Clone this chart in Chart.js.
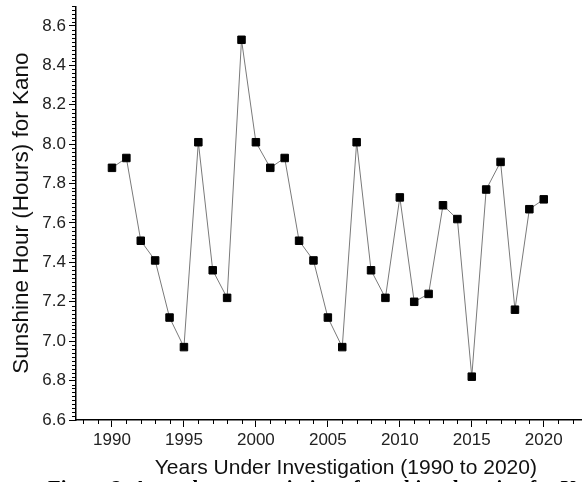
<!DOCTYPE html>
<html>
<head>
<meta charset="utf-8">
<script src="https://cdn.jsdelivr.net/npm/chart.js@4/dist/chart.umd.min.js"></script>
<style>
  html, body { margin: 0; padding: 0; overflow: hidden; background: #fff; width: 582px; height: 482px; }
  #wrap { position: relative; width: 582px; height: 482px; overflow: hidden; }
  #wrap canvas { position: absolute; left: 0; top: 0; }
  #caption {
    position: absolute; left: 48px; top: 478px;
    font: bold 20.7px/20px 'Liberation Serif', 'Times New Roman', serif;
    white-space: nowrap; color: #000;
  }
</style>
</head>
<body>
<div id="wrap">
  <canvas id="chart" width="622" height="482"></canvas>
  <div id="caption">Figure 2: Annual mean variation of sunshine duration for Kano</div>
</div>
<script>
// Annual mean sunshine duration (hours) for Kano
const years = [1990, 1991, 1992, 1993, 1994, 1995, 1996, 1997, 1998, 1999,
               2000, 2001, 2002, 2003, 2004, 2005, 2006, 2007, 2008, 2009,
               2010, 2011, 2012, 2013, 2014, 2015, 2016, 2017, 2018, 2019, 2020];
const sunshineHours = [7.88, 7.93, 7.51, 7.41, 7.12, 6.97, 8.01, 7.36, 7.22, 8.53,
                       8.01, 7.88, 7.93, 7.51, 7.41, 7.12, 6.97, 8.01, 7.36, 7.22,
                       7.73, 7.20, 7.24, 7.69, 7.62, 6.82, 7.77, 7.91, 7.16, 7.67, 7.72];
const yTickValues = [6.6, 6.8, 7.0, 7.2, 7.4, 7.6, 7.8, 8.0, 8.2, 8.4, 8.6];
const xTickValues = [1990, 1995, 2000, 2005, 2010, 2015, 2020];

const FONT = "'Liberation Sans', Arial, sans-serif";
Chart.defaults.font.family = FONT;

// Small unlabelled ticks: every year on x, every 0.02 h on y
const minorTicks = {
  id: 'minorTicks',
  afterDraw(chart) {
    const { ctx, scales: { x, y } } = chart;
    ctx.save();
    ctx.strokeStyle = '#000';
    ctx.lineWidth = 1;
    ctx.beginPath();
    for (let i = 1; i <= 105; i++) {
      if (i % 10 === 0) continue;
      const py = Math.round(y.getPixelForValue(6.6 + i * 0.02)) + 0.5;
      if (py < y.top) break;
      ctx.moveTo(x.left - 4, py);
      ctx.lineTo(x.left, py);
    }
    for (let yr = 1988; yr <= 2025; yr++) {
      if (yr % 5 === 0) continue;
      const px = Math.round(x.getPixelForValue(yr)) + 0.5;
      ctx.moveTo(px, y.bottom);
      ctx.lineTo(px, y.bottom + 4);
    }
    ctx.stroke();
    ctx.restore();
  }
};

new Chart(document.getElementById('chart'), {
  type: 'line',
  data: {
    datasets: [{
      data: years.map((yr, i) => ({ x: yr, y: sunshineHours[i] })),
      borderColor: '#7a7a7a',
      borderWidth: 1,
      pointStyle: 'rect',
      pointRadius: 5.3,
      pointBackgroundColor: '#000',
      pointBorderColor: '#000',
      pointBorderWidth: 1,
      tension: 0
    }]
  },
  options: {
    responsive: false,
    animation: false,
    devicePixelRatio: 1,
    layout: { padding: { top: 6, right: 1, left: 0, bottom: 0 } },
    plugins: { legend: { display: false }, tooltip: { enabled: false } },
    scales: {
      x: {
        type: 'linear',
        min: 1987.5,
        max: 2025,
        afterBuildTicks: s => { s.ticks = xTickValues.map(v => ({ value: v })); },
        afterFit: s => { s.height = 62; s.paddingLeft = 0; s.paddingRight = 0; },
        ticks: {
          callback: v => String(v),
          font: { size: 17 },
          color: '#222',
          padding: 3,
          maxRotation: 0,
          autoSkip: false
        },
        grid: { drawOnChartArea: false, tickLength: 7, tickColor: '#000', tickWidth: 1 },
        border: { color: '#000', width: 1.5 },
        title: {
          display: true,
          text: 'Years Under Investigation (1990 to 2020)',
          font: { size: 21 },
          color: '#111',
          padding: { top: 0, bottom: 1 }
        }
      },
      y: {
        type: 'linear',
        min: 6.6,
        max: 8.7,
        afterBuildTicks: s => { s.ticks = yTickValues.map(v => ({ value: v })); },
        afterFit: s => { s.width = 76; s.paddingTop = 0; s.paddingBottom = 0; },
        ticks: {
          callback: v => Number(v).toFixed(1),
          font: { size: 17 },
          color: '#222',
          padding: 3,
          autoSkip: false
        },
        grid: { drawOnChartArea: false, tickLength: 7, tickColor: '#000', tickWidth: 1 },
        border: { color: '#000', width: 1.5 },
        title: {
          display: true,
          text: 'Sunshine Hour (Hours) for Kano',
          font: { size: 22.5 },
          color: '#111',
          padding: { top: 8, bottom: 0 }
        }
      }
    }
  },
  plugins: [minorTicks]
});
</script>
</body>
</html>
